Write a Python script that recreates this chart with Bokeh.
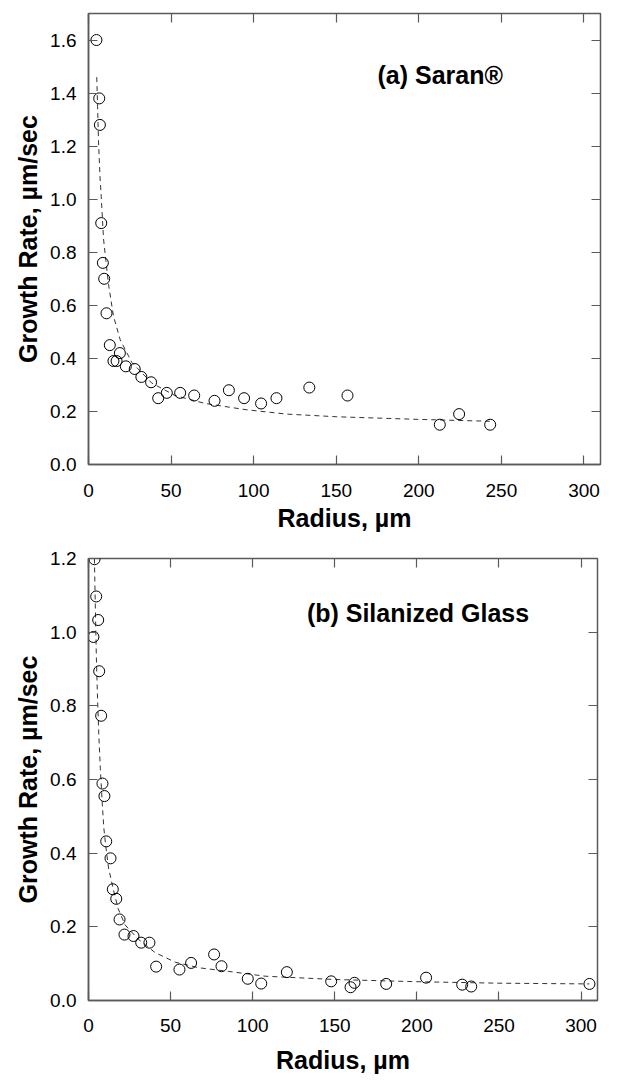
from bokeh.plotting import figure
from bokeh.models import LinearAxis, FixedTicker, NumeralTickFormatter, Label, CustomLabelingPolicy
from bokeh.layouts import column
from bokeh.embed import file_html
from bokeh.resources import INLINE

# ---- Data: panel (a) Saran ----
saran_radius = [4.8, 6.5, 6.9, 7.7, 8.7, 9.5, 10.9, 12.9, 15.1, 17.0, 19.0, 22.6, 28.0, 32.0,
                37.9, 42.2, 47.4, 55.5, 64.0, 76.3, 85.0, 94.2, 104.5, 113.8, 133.7, 156.8,
                212.7, 224.4, 243.2]
saran_rate = [1.60, 1.38, 1.28, 0.91, 0.76, 0.70, 0.57, 0.45, 0.39, 0.39, 0.42, 0.37, 0.36, 0.33,
              0.31, 0.25, 0.27, 0.27, 0.26, 0.24, 0.28, 0.25, 0.23, 0.25, 0.29, 0.26,
              0.15, 0.19, 0.15]
saran_fit_radius = [5.0, 5.5, 6.05, 7.0, 7.7, 9.1, 10.5, 12.1, 15.1, 19.2, 26.2, 38.3, 52.4,
                    70.6, 94.8, 120, 150, 200, 243]
saran_fit_rate = [1.46, 1.35, 1.22, 1.08, 1.01, 0.85, 0.77, 0.68, 0.56, 0.47, 0.385, 0.307, 0.26,
                  0.23, 0.207, 0.19, 0.18, 0.17, 0.163]

# ---- Data: panel (b) Silanized Glass ----
glass_radius = [3.65, 4.7, 5.9, 3.0, 6.5, 7.7, 8.5, 9.7, 10.8, 13.4, 14.8, 16.9, 18.9, 21.9,
                27.4, 32.1, 37.1, 41.2, 55.4, 62.5, 76.5, 81.0, 97.0, 105.2, 120.8, 147.8,
                159.6, 162.0, 181.3, 205.6, 227.6, 233.1, 305.1]
glass_rate = [1.198, 1.097, 1.033, 0.987, 0.894, 0.773, 0.589, 0.555, 0.432, 0.386, 0.302, 0.276,
              0.220, 0.179, 0.175, 0.157, 0.157, 0.092, 0.084, 0.102, 0.125, 0.093, 0.059, 0.046,
              0.077, 0.052, 0.036, 0.048, 0.045, 0.062, 0.043, 0.038, 0.045]
glass_fit_radius = [3.6, 4.2, 4.8, 5.5, 6.3, 7.2, 8.3, 9.3, 10.5, 12.2, 15.2, 18.0, 22.3, 30.4,
                    40.6, 52.8, 67, 85.3, 107.6, 150, 200, 250, 305]
glass_fit_rate = [1.20, 1.06, 0.93, 0.82, 0.72, 0.63, 0.54, 0.47, 0.42, 0.36, 0.30, 0.25, 0.205,
                  0.166, 0.13, 0.104, 0.089, 0.079, 0.066, 0.057, 0.051, 0.047, 0.045]

x_ticks = [0, 50, 100, 150, 200, 250, 300]
y_ticks_a = [0.0, 0.2, 0.4, 0.6, 0.8, 1.0, 1.2, 1.4, 1.6]
y_ticks_b = [0.0, 0.2, 0.4, 0.6, 0.8, 1.0, 1.2]

FONT = "Liberation Sans"
AX = "#5a5a5a"

HIDE_LABELS = """
for (const i of Array.from(indices)) {
  if (typeof indices.unset === 'function') { indices.unset(i) } else { indices.set(i, false) }
}
return indices
"""


def make_panel(xs, ys, fx, fy, yticks, ymax, label, lx, ly, fw, fh,
               bl, bt, bb, label_standoff, title_standoff):
    p = figure(frame_width=fw, frame_height=fh, x_range=(0, 310), y_range=(0, ymax),
               output_backend="svg", toolbar_location=None,
               min_border_left=bl, min_border_right=26, min_border_top=bt,
               min_border_bottom=bb)
    p.grid.visible = False
    p.outline_line_color = AX
    p.outline_line_width = 1.5
    p.background_fill_color = "white"
    p.border_fill_color = "white"

    for ax, ticks in ((p.xaxis[0], x_ticks), (p.yaxis[0], yticks)):
        ax.ticker = FixedTicker(ticks=ticks)
        ax.major_tick_in = 9
        ax.major_tick_out = 0
        ax.minor_tick_line_color = None
        ax.axis_line_color = AX
        ax.axis_line_width = 1.5
        ax.major_tick_line_color = AX
        ax.major_tick_line_width = 1.2
        ax.major_label_text_font = FONT
        ax.major_label_text_font_size = "19px"
        ax.major_label_text_color = "black"
        ax.axis_label_text_font = FONT
        ax.axis_label_text_font_size = "25px"
        ax.axis_label_text_font_style = "bold"
        ax.axis_label_text_color = "black"
    p.yaxis[0].formatter = NumeralTickFormatter(format="0.0")
    p.xaxis[0].axis_label = "Radius, µm"
    p.yaxis[0].axis_label = "Growth Rate, µm/sec"
    p.xaxis[0].major_label_standoff = label_standoff
    p.yaxis[0].major_label_standoff = 12
    p.xaxis[0].axis_label_standoff = title_standoff
    p.yaxis[0].axis_label_standoff = 5

    for place, ticks in (("above", x_ticks), ("right", yticks)):
        ax = LinearAxis(ticker=FixedTicker(ticks=ticks),
                        major_label_policy=CustomLabelingPolicy(code=HIDE_LABELS))
        ax.major_tick_in = 9
        ax.major_tick_out = 0
        ax.minor_tick_line_color = None
        ax.axis_line_color = None
        ax.major_tick_line_color = AX
        ax.major_tick_line_width = 1.2
        ax.major_label_text_font_size = "0px"
        ax.major_label_standoff = 0
        p.add_layout(ax, place)

    p.line(fx, fy, line_color="#333333", line_width=1, line_dash="5 4")
    p.scatter(xs, ys, marker="circle", size=11, fill_color=None,
              line_color="black", line_width=1)

    p.add_layout(Label(x=lx, y=ly, text=label, text_font=FONT,
                       text_font_style="bold", text_font_size="25px",
                       text_baseline="middle", text_align="left", text_color="black"))
    return p


p1 = make_panel(saran_radius, saran_rate, saran_fit_radius, saran_fit_rate,
                y_ticks_a, 1.7, "(a) Saran®", 175, 1.47, 512, 451, 85, 13, 70, 19, 4)
p2 = make_panel(glass_radius, glass_rate, glass_fit_radius, glass_fit_rate,
                y_ticks_b, 1.2, "(b) Silanized Glass", 133, 1.053, 509, 442, 88, 24, 69, 18, 11)

layout = column(p1, p2, spacing=0)
open("out.html", "w").write(file_html(layout, INLINE))
